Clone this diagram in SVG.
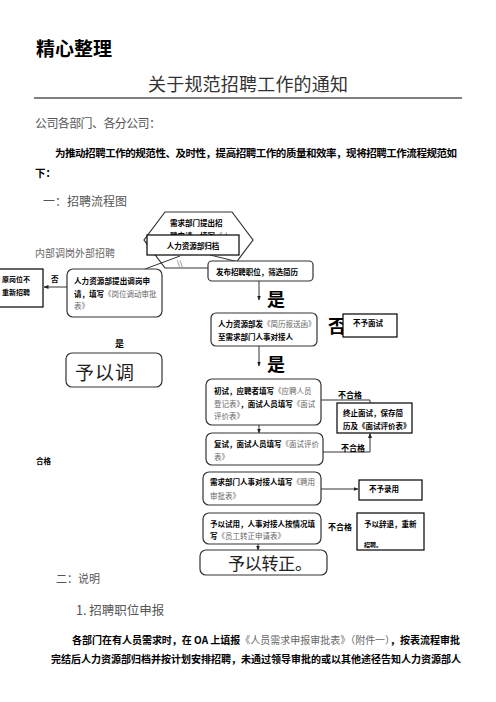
<svg xmlns="http://www.w3.org/2000/svg" width="496" height="702" viewBox="0 0 496 702">
<defs>
<style>
text{font-family:"Noto Sans CJK SC","Liberation Sans",sans-serif;}
.b{font-weight:bold;fill:#000;}
.g{fill:#666;font-weight:normal;}
.t{font-size:7.5px;}
.box{fill:#fff;stroke:#333;stroke-width:1.2;}
.sq{fill:#fff;stroke:#000;stroke-width:1.2;}
.ln{fill:none;stroke:#333;stroke-width:1;}
</style>
<marker id="ah" viewBox="0 0 10 10" refX="9" refY="5" markerWidth="5" markerHeight="5" orient="auto-start-reverse"><path d="M0,1 L10,5 L0,9 z" fill="#222"/></marker>
</defs>
<rect width="496" height="702" fill="#fff"/>

<g id="header">
<text x="36" y="56" class="b" font-size="19" textLength="76">精心整理</text>
<text x="148" y="91" font-size="18" fill="#333" textLength="200">关于规范招聘工作的通知</text>
<line x1="34" y1="98" x2="462" y2="98" stroke="#000" stroke-width="1"/>
<text x="35" y="128" font-size="12" fill="#555" textLength="126">公司各部门、各分公司：</text>
<text x="55" y="157" class="b" font-size="10.5" textLength="402">为推动招聘工作的规范性、及时性，提高招聘工作的质量和效率，现将招聘工作流程规范如</text>
<text x="35" y="177" class="b" font-size="10.5">下：</text>
<text x="43" y="206" font-size="12" fill="#555">一：招聘流程图</text>
<text x="35" y="257" font-size="10" fill="#666" textLength="80">内部调岗外部招聘</text>
</g>

<g id="hexagon">
<polygon points="165,212 232,212 253,240 232,268 165,268 144,240" class="box"/>
<text x="170" y="226" class="b t">需求部门提出招</text>
<text x="170" y="239" class="t"><tspan class="b">聘申请，填写</tspan><tspan class="g">《人</tspan></text>
</g>

<g id="archive">
<rect x="147" y="235" width="92" height="20" class="sq"/>
<text x="193" y="248.5" class="b t" text-anchor="middle">人力资源部归档</text>
</g>

<g id="connectors">
<line x1="180" y1="256" x2="145" y2="269" class="ln"/>
<line x1="210" y1="255" x2="243" y2="263" class="ln"/>
<text x="177" y="266" font-size="7" fill="#333">\\</text>
<line x1="67" y1="287" x2="44" y2="287" class="ln" marker-end="url(#ah)"/>
<line x1="259" y1="281" x2="259" y2="300" class="ln" marker-end="url(#ah)"/>
<line x1="259" y1="346" x2="259" y2="366" class="ln" marker-end="url(#ah)"/>
<line x1="259" y1="425" x2="259" y2="433" class="ln" marker-end="url(#ah)"/>
<polyline points="321,400 370,400 370,410" class="ln"/>
<polyline points="323,452 370,452 370,433.5" class="ln" marker-end="url(#ah)"/>
<line x1="321" y1="489" x2="358" y2="489" class="ln" marker-end="url(#ah)"/>
<line x1="258" y1="544" x2="258" y2="550" class="ln" marker-end="url(#ah)"/>
</g>

<g id="transfer-apply">
<rect x="67" y="269" width="95" height="48" rx="6" class="box"/>
<text x="74" y="284" class="b t" textLength="76">人力资源部提出调岗申</text>
<text x="74" y="297" class="t"><tspan class="b">请，填写</tspan><tspan class="g">《岗位调动审批</tspan></text>
<text x="74" y="309" class="t g">表》</text>
</g>

<g id="rehire">
<rect x="-10" y="269" width="53" height="38" class="sq"/>
<text x="2" y="282" class="b" font-size="7">原岗位不</text>
<text x="2" y="295" class="b" font-size="7">重新招聘</text>
</g>
<text x="51" y="282" class="b" font-size="7.5">否</text>
<text x="115" y="347" class="b" font-size="9">是</text>

<g id="transfer-ok">
<rect x="66" y="353" width="96" height="34" rx="6" class="box"/>
<text x="75" y="380" font-size="19" fill="#222" letter-spacing="1">予以调</text>
</g>

<g id="publish">
<rect x="208" y="261" width="105" height="20" rx="4" class="box"/>
<text x="216" y="274.5" class="b t" textLength="82">发布招聘职位，筛选简历</text>
</g>
<text x="267" y="306" class="b" font-size="18">是</text>

<g id="send-resume">
<rect x="211" y="313" width="106" height="33" rx="5" class="box"/>
<text x="218" y="327" class="t"><tspan class="b">人力资源部发</tspan><tspan class="g">《简历报送函》</tspan></text>
<text x="218" y="340" class="b t">至需求部门人事对接人</text>
</g>
<text x="328" y="333" class="b" font-size="18">否</text>
<g id="no-interview">
<rect x="343" y="314" width="54" height="23" class="sq"/>
<text x="353" y="326" class="b" font-size="7.5">不予面试</text>
</g>
<text x="267" y="371" class="b" font-size="18">是</text>

<g id="first-interview">
<rect x="206" y="379" width="115" height="46" rx="6" class="box"/>
<text x="214" y="394" class="t"><tspan class="b">初试，应聘者填写</tspan><tspan class="g">《应聘人员</tspan></text>
<text x="214" y="407" class="t"><tspan class="g">登记表》</tspan><tspan class="b">，面试人员填写</tspan><tspan class="g">《面试</tspan></text>
<text x="214" y="419" class="t g">评价表》</text>
</g>
<text x="338" y="398" class="b" font-size="8">不合格</text>

<g id="stop-interview">
<rect x="337" y="403" width="75" height="30" class="sq"/>
<text x="343" y="416" class="b t">终止面试，保存简</text>
<text x="343" y="429" class="b t">历及《面试评价表》</text>
</g>

<g id="second-interview">
<rect x="206" y="433" width="117" height="32" rx="6" class="box"/>
<text x="214" y="447" class="t"><tspan class="b">复试，面试人员填写</tspan><tspan class="g">《面试评价</tspan></text>
<text x="214" y="460" class="t g">表》</text>
</g>
<text x="341" y="451" class="b" font-size="8">不合格</text>
<text x="36" y="464" class="b" font-size="7.5">合格</text>

<g id="dept-approve">
<rect x="203" y="472" width="118" height="33" rx="6" class="box"/>
<text x="210" y="485" class="t"><tspan class="b">需求部门人事对接人填写</tspan><tspan class="g">《聘用</tspan></text>
<text x="210" y="499" class="t g">审批表》</text>
</g>
<g id="no-hire">
<rect x="359" y="480" width="63" height="20" class="sq"/>
<text x="369" y="492" class="b" font-size="7.5">不予录用</text>
</g>

<g id="probation">
<rect x="203" y="513" width="118" height="31" rx="6" class="box"/>
<text x="210" y="527" class="b t">予以试用，人事对接人按情况填</text>
<text x="210" y="539" class="t"><tspan class="b">写</tspan><tspan class="g">《员工转正申请表》</tspan></text>
</g>
<text x="328" y="530" class="b" font-size="8">不合格</text>
<g id="dismiss">
<rect x="357" y="513" width="67" height="37" class="sq"/>
<text x="364" y="527" class="b t">予以辞退，重新</text>
<text x="364" y="547" class="b" font-size="6">招聘。</text>
</g>

<g id="confirm">
<rect x="200" y="550" width="127" height="25" rx="6" class="box"/>
<text x="228" y="570" font-size="17" fill="#222" textLength="84">予以转正。</text>
</g>

<g id="body">
<text x="56" y="583" font-size="11" fill="#555">二：说明</text>
<text x="76" y="615" font-size="12.5" fill="#555">1. 招聘职位申报</text>
<text x="72" y="644" font-size="10" textLength="388"><tspan class="b">各部门在有人员需求时，在 OA 上填报</tspan><tspan class="g">《人员需求申报审批表》（附件一）</tspan><tspan class="b">，按表流程审批</tspan></text>
<text x="51" y="663" class="b" font-size="10" textLength="410">完结后人力资源部归档并按计划安排招聘，未通过领导审批的或以其他途径告知人力资源部人</text>
</g>
</svg>
